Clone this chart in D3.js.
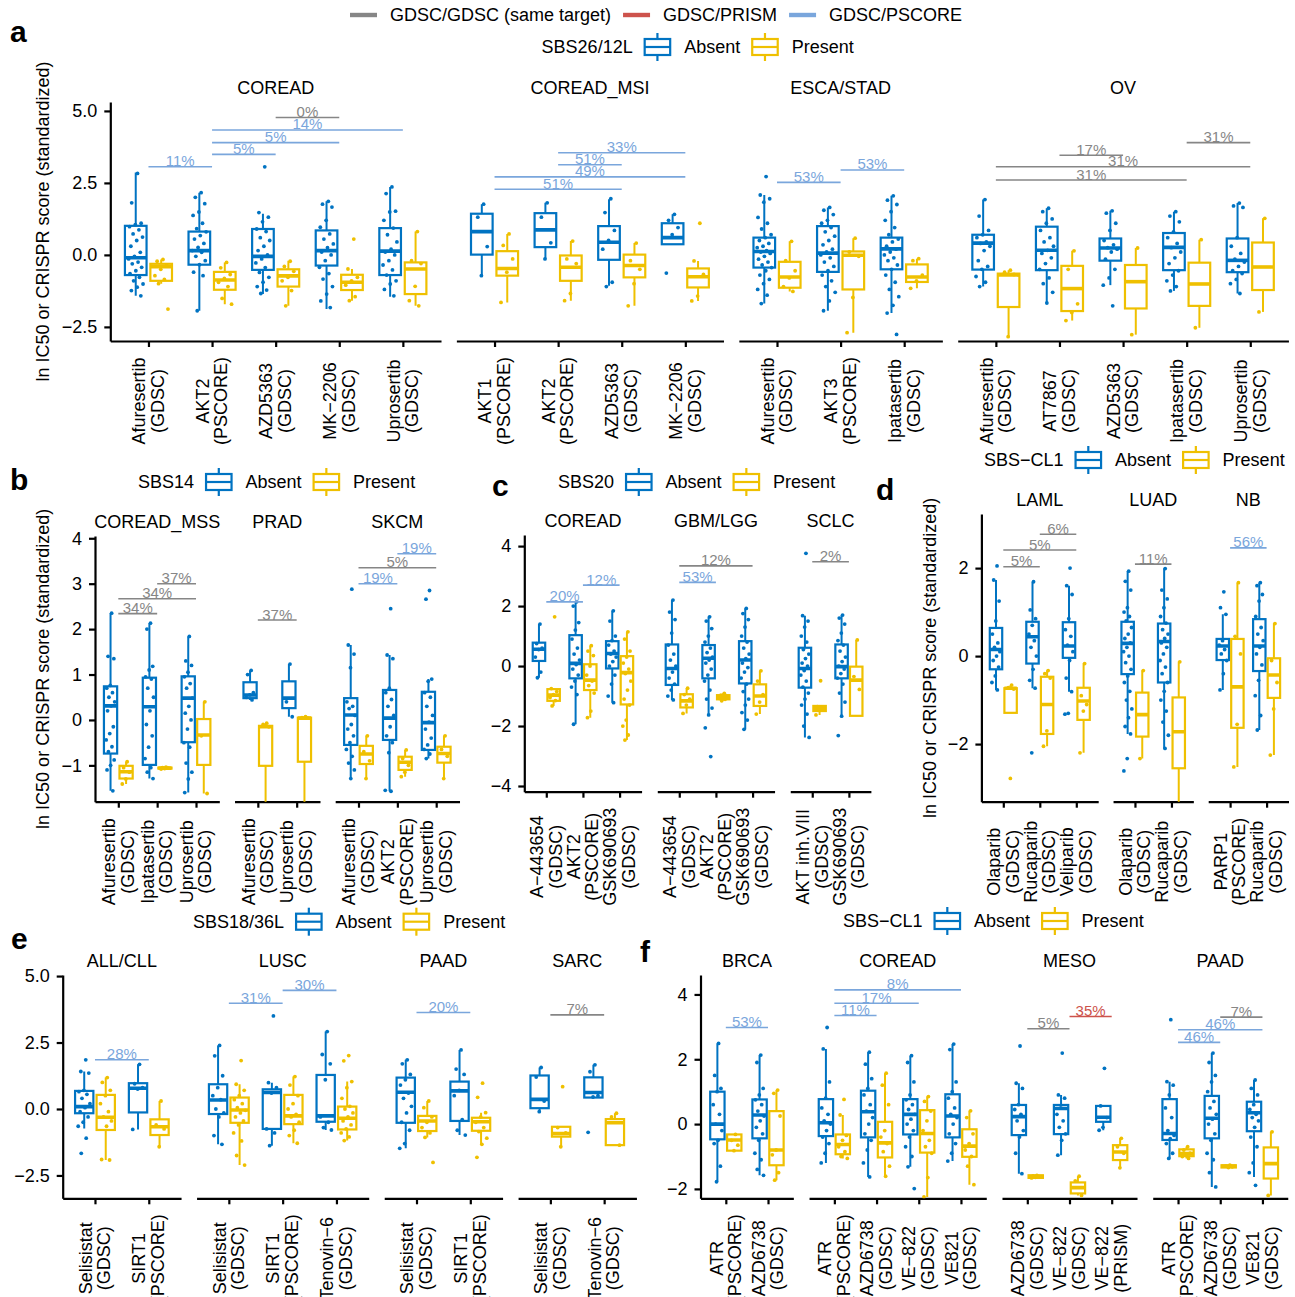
<!DOCTYPE html>
<html>
<head>
<meta charset="utf-8">
<script src="https://cdn.jsdelivr.net/npm/d3@7"></script>
<style>
  body { margin: 0; background: #fff; }
  svg { display: block; }
</style>
</head>
<body>
<script>
// ---- data ----
const groups = ['Absent', 'Present']
const bracketTypes = ['GDSC/GDSC (same target)', 'GDSC/PRISM', 'GDSC/PSCORE']

// box rows: [facet, drug, group, [lo, q1, median, q3, hi], points]
// bracket rows: [facet, drugA, drugB, y, label, type]

const aFacets = ['COREAD', 'COREAD_MSI', 'ESCA/STAD', 'OV']
const aDrugs = [
  ['Afuresertib\n(GDSC)', 'AKT2\n(PSCORE)', 'AZD5363\n(GDSC)', 'MK−2206\n(GDSC)', 'Uprosertib\n(GDSC)'],
  ['AKT1\n(PSCORE)', 'AKT2\n(PSCORE)', 'AZD5363\n(GDSC)', 'MK−2206\n(GDSC)'],
  ['Afuresertib\n(GDSC)', 'AKT3\n(PSCORE)', 'Ipatasertib\n(GDSC)'],
  ['Afuresertib\n(GDSC)', 'AT7867\n(GDSC)', 'AZD5363\n(GDSC)', 'Ipatasertib\n(GDSC)', 'Uprosertib\n(GDSC)']
]
const aTicks = [-2.5, 0, 2.5, 5]
const aBoxes = [
  [0, 0, 0, [-1.42, -0.70, -0.10, 1.01, 2.86], [2.83, 1.81, 1.1, 1.05, 0.98, 0.87, 0.73, 0.62, 0.5, 0.3, 0.09, -0.05, -0.14, -0.25, -0.31, -0.43, -0.55, -0.65, -0.78, -0.9, -1.01, -1.12, -1.24, -1.42]],
  [0, 0, 1, [-1.0, -0.9, -0.41, -0.31, -0.16], [-0.16, -0.22, -0.35, -0.5, -0.72, -0.85, -1.0, -1.88]],
  [0, 1, 0, [-1.94, -0.34, 0.15, 0.81, 2.16], [2.16, 2.0, 1.78, 1.49, 1.37, 1.1, 0.91, 0.8, 0.67, 0.55, 0.4, 0.26, 0.15, 0.09, -0.05, -0.2, -0.34, -0.6, -0.72, -1.94]],
  [0, 1, 1, [-1.71, -1.21, -0.87, -0.59, -0.26], [-0.26, -0.45, -0.68, -0.82, -0.95, -1.1, -1.51, -1.71]],
  [0, 2, 0, [-1.36, -0.52, -0.05, 0.90, 1.43], [3.06, 1.47, 1.31, 1.15, 0.9, 0.81, 0.6, 0.5, 0.3, 0.15, 0.0, -0.14, -0.28, -0.44, -0.61, -0.78, -0.95, -1.1, -1.22, -1.34]],
  [0, 2, 1, [-1.77, -1.10, -0.73, -0.50, -0.20], [-0.22, -0.4, -0.57, -0.78, -0.9, -1.24, -1.77]],
  [0, 3, 0, [-1.88, -0.37, 0.15, 0.85, 1.86], [1.86, 1.76, 1.66, 1.2, 0.96, 0.73, 0.55, 0.38, 0.25, 0.1, 0.0, -0.2, -0.43, -0.65, -0.84, -1.1, -1.36, -1.6, -1.83]],
  [0, 3, 1, [-1.59, -1.22, -0.95, -0.69, -0.49], [0.55, -0.49, -0.78, -0.9, -1.05, -1.45, -1.59]],
  [0, 4, 0, [-1.45, -0.70, 0.13, 0.93, 2.36], [2.36, 2.13, 1.52, 1.49, 1.2, 0.93, 0.7, 0.45, 0.2, 0.1, 0.0, -0.2, -0.35, -0.52, -0.7, -0.9, -1.01, -1.2, -1.42]],
  [0, 4, 1, [-1.77, -1.36, -0.49, -0.26, 0.81], [0.81, -0.2, -0.3, -1.09, -1.59, -1.77]],
  [1, 0, 0, [-0.72, 0.01, 0.81, 1.43, 1.76], [1.76, 1.31, 0.29, -0.72]],
  [1, 0, 1, [-1.65, -0.72, -0.47, 0.13, 0.73], [0.73, 0.33, -0.14, -0.6, -1.65]],
  [1, 1, 0, [-0.14, 0.27, 0.87, 1.45, 1.81], [1.81, 1.31, 0.42, -0.14]],
  [1, 1, 1, [-1.59, -0.90, -0.43, -0.02, 0.48], [0.48, -0.14, -0.3, -1.34, -1.59]],
  [1, 2, 0, [-1.07, -0.17, 0.44, 1.0, 1.93], [1.95, 1.47, 0.85, 0.5, 0.2, -0.95, -1.1]],
  [1, 2, 1, [-1.77, -0.78, -0.37, 0.01, 0.41], [0.41, -0.2, -0.5, -1.0, -1.77]],
  [1, 3, 0, [0.37, 0.37, 0.60, 1.10, 1.41], [1.41, 1.2, 0.95, 0.7, -0.63]],
  [1, 3, 1, [-1.60, -1.13, -0.76, -0.47, -0.21], [1.1, -0.21, -0.68, -1.43, -1.6]],
  [2, 0, 0, [-1.69, -0.44, 0.12, 0.60, 2.08], [2.72, 2.08, 1.95, 1.83, 1.3, 1.1, 0.9, 0.7, 0.6, 0.5, 0.4, 0.3, 0.25, 0.15, 0.1, 0.05, -0.05, -0.15, -0.25, -0.35, -0.44, -0.55, -0.7, -0.85, -1.0, -1.2, -1.4, -1.69]],
  [2, 0, 1, [-1.27, -1.14, -0.77, -0.24, 0.47], [0.47, -0.2, -0.55, -0.8, -1.1, -1.27]],
  [2, 1, 0, [-1.94, -0.59, 0.06, 1.0, 1.65], [1.65, 1.55, 1.4, 1.2, 1.1, 0.95, 0.8, 0.65, 0.5, 0.35, 0.2, 0.1, 0.0, -0.1, -0.25, -0.4, -0.55, -0.7, -0.9, -1.1, -1.3, -1.6, -1.94]],
  [2, 1, 1, [-2.7, -1.2, -0.01, 0.12, 0.58], [0.58, 0.1, -0.05, -1.48, -2.7]],
  [2, 2, 0, [-2.02, -0.50, 0.21, 0.60, 2.05], [2.05, 1.9, 1.75, 1.5, 1.2, 0.95, 0.7, 0.55, 0.45, 0.3, 0.2, 0.1, 0.0, -0.1, -0.2, -0.35, -0.5, -0.7, -0.95, -1.2, -1.45, -1.75, -2.02, -2.76]],
  [2, 2, 1, [-1.16, -0.94, -0.77, -0.33, -0.13], [-0.13, -0.2, -0.7, -0.9, -1.16]],
  [3, 0, 0, [-1.10, -0.51, 0.41, 0.70, 1.92], [1.92, 1.35, 0.85, 0.7, 0.6, 0.45, 0.4, 0.3, 0.15, -0.2, -0.4, -0.5, -0.75, -0.95, -1.1]],
  [3, 0, 1, [-2.84, -1.81, -0.70, -0.65, -0.53], [-0.53, -0.6, -0.68, -2.84]],
  [3, 1, 0, [-1.67, -0.53, 0.16, 0.98, 1.62], [1.62, 1.5, 1.25, 1.1, 0.85, 0.6, 0.45, 0.3, 0.16, 0.05, -0.1, -0.3, -0.5, -0.8, -1.0, -1.3, -1.67]],
  [3, 1, 1, [-2.28, -1.95, -1.17, -0.38, 0.14], [0.14, -0.5, -1.7, -2.0, -2.28]],
  [3, 2, 0, [-1.05, -0.20, 0.24, 0.57, 1.53], [1.53, 1.45, 1.1, 0.85, 0.5, 0.35, 0.25, 0.2, 0.1, -0.15, -0.5, -0.8, -1.05, -1.77]],
  [3, 2, 1, [-2.77, -1.86, -0.93, -0.35, 0.24], [0.24, -2.77]],
  [3, 3, 0, [-1.25, -0.53, 0.26, 0.76, 1.50], [1.5, 1.35, 1.15, 0.8, 0.6, 0.4, 0.25, 0.1, -0.1, -0.3, -0.55, -0.7, -0.9, -1.1, -1.25]],
  [3, 3, 1, [-2.53, -1.77, -1.01, -0.27, 0.53], [0.53, -2.53]],
  [3, 4, 0, [-1.34, -0.60, -0.19, 0.57, 1.80], [1.8, 1.7, 1.65, 0.6, 0.3, 0.05, -0.15, -0.25, -0.4, -0.55, -0.65, -0.85, -1.0, -1.34]],
  [3, 4, 1, [-1.98, -1.22, -0.42, 0.43, 1.27], [1.27, -1.98]]
]
const aBrackets = [
  [0, 2, 3, 4.77, '0%', 0], [0, 1, 4, 4.34, '14%', 2], [0, 1, 3, 3.90, '5%', 2], [0, 1, 2, 3.49, '5%', 2], [0, 0, 1, 3.06, '11%', 2],
  [1, 1, 3, 3.55, '33%', 2], [1, 1, 2, 3.13, '51%', 2], [1, 0, 3, 2.71, '49%', 2], [1, 0, 2, 2.28, '51%', 2],
  [2, 1, 2, 2.95, '53%', 2], [2, 0, 1, 2.52, '53%', 2],
  [3, 3, 4, 3.90, '31%', 0], [3, 1, 2, 3.46, '17%', 0], [3, 0, 4, 3.06, '31%', 0], [3, 0, 3, 2.60, '31%', 0]
]

const bFacets = ['COREAD_MSS', 'PRAD', 'SKCM']
const bDrugs = [
  ['Afuresertib\n(GDSC)', 'Ipatasertib\n(GDSC)', 'Uprosertib\n(GDSC)'],
  ['Afuresertib\n(GDSC)', 'Uprosertib\n(GDSC)'],
  ['Afuresertib\n(GDSC)', 'AKT2\n(PSCORE)', 'Uprosertib\n(GDSC)']
]
const bTicks = [-1, 0, 1, 2, 3, 4]
const bBoxes = [
  [0, 0, 0, [-1.56, -0.74, 0.31, 0.74, 2.35], [2.35, 1.4, 1.35, 0.76, 0.7, 0.6, 0.5, 0.4, 0.31, 0.2, -0.15, -0.3, -0.44, -0.59, -0.7, -0.88, -1.0, -1.1, -1.56]],
  [0, 0, 1, [-1.41, -1.29, -1.14, -1.01, -0.92], [-0.92, -1.05, -1.15, -1.3, -1.41]],
  [0, 1, 0, [-1.29, -0.99, 0.29, 0.93, 2.13], [2.13, 2.0, 1.18, 1.1, 0.95, 0.9, 0.7, 0.5, 0.2, -0.1, -0.35, -0.6, -0.85, -1.05, -1.15, -1.29]],
  [0, 1, 1, [-1.08, -1.07, -1.06, -1.05, -1.04], [-1.04, -1.05, -1.06, -1.07, -1.08]],
  [0, 2, 0, [-1.60, -0.49, 0.48, 0.96, 1.84], [1.84, 1.3, 1.2, 1.05, 0.95, 0.8, 0.7, 0.48, 0.3, 0.15, 0.0, -0.2, -0.5, -0.6, -0.95, -1.15, -1.3, -1.6]],
  [0, 2, 1, [-1.62, -0.99, -0.33, 0.02, 0.40], [0.4, -0.35, -1.62]],
  [1, 0, 0, [0.44, 0.48, 0.55, 0.83, 1.09], [1.09, 1.0, 0.6, 0.55, 0.5, 0.44]],
  [1, 0, 1, [-3.5, -1.01, -0.15, -0.13, -0.07], [-0.07, -0.1, -0.15]],
  [1, 1, 0, [0.07, 0.26, 0.48, 0.85, 1.23], [1.23, 0.4, 0.07]],
  [1, 1, 1, [-3.5, -0.92, 0.04, 0.05, 0.07], [0.07, 0.05, 0.04]],
  [2, 0, 0, [-1.29, -0.55, 0.11, 0.48, 1.65], [2.88, 1.65, 1.45, 1.15, 0.4, 0.3, 0.25, 0.1, -0.1, -0.2, -0.35, -0.5, -0.65, -0.8, -0.95, -1.1, -1.29]],
  [2, 0, 1, [-1.29, -0.97, -0.75, -0.57, -0.35], [-0.35, -0.7, -0.9, -1.29]],
  [2, 1, 0, [-1.57, -0.44, 0.04, 0.66, 1.43], [2.45, 1.43, 1.35, 0.7, 0.6, 0.45, 0.3, 0.1, -0.15, -0.35, -0.5, -0.72, -1.55, -1.57]],
  [2, 1, 1, [-1.25, -1.10, -0.93, -0.81, -0.66], [-0.66, -0.85, -1.0, -1.15, -1.25]],
  [2, 2, 0, [-0.85, -0.66, -0.06, 0.62, 0.90], [2.85, 2.66, 0.9, 0.85, 0.6, 0.5, 0.3, 0.1, -0.05, -0.2, -0.4, -0.55, -0.65, -0.75, -0.85]],
  [2, 2, 1, [-1.29, -0.94, -0.74, -0.59, -0.35], [-0.35, -0.65, -0.8, -1.29]]
]
const bBrackets = [
  [0, 1, 2, 3.0, '37%', 0], [0, 0, 2, 2.67, '34%', 0], [0, 0, 1, 2.34, '34%', 0],
  [1, 0, 1, 2.2, '37%', 0],
  [2, 1, 2, 3.66, '19%', 2], [2, 0, 2, 3.35, '5%', 0], [2, 0, 1, 3.0, '19%', 2]
]

const cFacets = ['COREAD', 'GBM/LGG', 'SCLC']
const cDrugs = [
  ['A−443654\n(GDSC)', 'AKT2\n(PSCORE)', 'GSK690693\n(GDSC)'],
  ['A−443654\n(GDSC)', 'AKT2\n(PSCORE)', 'GSK690693\n(GDSC)'],
  ['AKT inh.VIII\n(GDSC)', 'GSK690693\n(GDSC)']
]
const cTicks = [-4, -2, 0, 2, 4]
const cBoxes = [
  [0, 0, 0, [-0.39, 0.17, 0.56, 0.78, 1.40], [1.4, 0.75, 0.6, 0.55, 0.3, -0.2, -0.39]],
  [0, 0, 1, [-1.33, -1.16, -0.97, -0.77, -0.74], [1.64, -0.75, -0.85, -0.95, -1.05, -1.15, -1.33]],
  [0, 1, 0, [-1.94, -0.41, 0.09, 1.03, 2.14], [2.14, 2.0, 1.45, 1.2, 0.9, 0.6, 0.4, 0.2, 0.05, -0.1, -0.3, -0.5, -0.7, -0.95, -1.94]],
  [0, 1, 1, [-1.72, -0.80, -0.47, 0.06, 0.68], [0.68, 0.5, 0.35, 0.0, -0.3, -0.5, -0.65, -0.9, -1.5, -1.72]],
  [0, 2, 0, [-1.22, -0.08, 0.42, 0.83, 1.84], [1.84, 1.5, 1.0, 0.85, 0.7, 0.5, 0.4, 0.3, 0.15, 0.0, -0.3, -0.6, -1.0, -1.22]],
  [0, 2, 1, [-2.47, -1.28, -0.22, 0.33, 1.14], [1.14, 0.9, 0.5, 0.3, 0.1, -0.1, -0.25, -0.5, -0.8, -1.1, -1.3, -1.8, -2.0, -2.3, -2.47]],
  [1, 0, 0, [-1.13, -0.63, -0.08, 0.72, 2.20], [2.2, 1.8, 1.55, 1.1, 0.7, 0.4, 0.2, 0.0, -0.2, -0.4, -0.6, -0.8, -1.0, -1.13]],
  [1, 0, 1, [-1.58, -1.38, -1.16, -0.94, -0.74], [-0.74, -0.95, -1.1, -1.3, -1.58]],
  [1, 1, 0, [-1.63, -0.41, 0.26, 0.70, 1.64], [1.64, 1.5, 1.25, 1.0, 0.8, 0.6, 0.45, 0.3, 0.2, 0.1, -0.1, -0.3, -0.5, -0.8, -1.1, -1.4, -1.63, -2.06, -3.02]],
  [1, 1, 1, [-1.16, -1.11, -1.04, -0.97, -0.91], [-0.91, -0.97, -1.0, -1.04, -1.08, -1.11, -1.16]],
  [1, 2, 0, [-2.11, -0.58, 0.20, 0.83, 1.92], [1.92, 1.75, 1.55, 1.3, 1.0, 0.8, 0.6, 0.4, 0.25, 0.1, -0.05, -0.2, -0.4, -0.6, -0.85, -1.1, -1.3, -1.55, -1.8, -2.11]],
  [1, 2, 1, [-1.60, -1.33, -1.00, -0.61, -0.16], [-0.16, -0.5, -0.95, -1.2, -1.6]],
  [2, 0, 0, [-2.38, -0.72, -0.08, 0.61, 1.68], [3.76, 1.68, 1.5, 1.3, 1.0, 0.8, 0.55, 0.4, 0.25, 0.1, 0.0, -0.15, -0.3, -0.5, -0.7, -0.9, -1.1, -1.3, -1.6, -2.0, -2.38]],
  [2, 0, 1, [-1.63, -1.50, -1.41, -1.33, -1.33], [-0.49, -1.35, -1.4, -1.45, -1.63]],
  [2, 1, 0, [-1.67, -0.41, -0.02, 0.72, 1.70], [1.7, 1.6, 1.4, 1.1, 0.85, 0.7, 0.5, 0.3, 0.15, 0.0, -0.1, -0.25, -0.4, -0.6, -0.9, -1.2, -1.67, -2.32]],
  [2, 1, 1, [-1.66, -1.66, -0.47, -0.02, 0.87], [0.87, -0.35, -0.78]]
]
const cBrackets = [
  [0, 0, 1, 2.14, '20%', 2], [0, 1, 2, 2.7, '12%', 2],
  [1, 0, 2, 3.34, '12%', 0], [1, 0, 1, 2.79, '53%', 2],
  [2, 0, 1, 3.48, '2%', 0]
]

const dFacets = ['LAML', 'LUAD', 'NB']
const dDrugs = [
  ['Olaparib\n(GDSC)', 'Rucaparib\n(GDSC)', 'Veliparib\n(GDSC)'],
  ['Olaparib\n(GDSC)', 'Rucaparib\n(GDSC)'],
  ['PARP1\n(PSCORE)', 'Rucaparib\n(GDSC)']
]
const dTicks = [-2, 0, 2]
const dBoxes = [
  [0, 0, 0, [-0.77, -0.30, 0.15, 0.64, 1.73], [2.05, 1.73, 1.25, 0.8, 0.5, 0.3, 0.2, 0.1, 0.0, -0.1, -0.25, -0.45, -0.6, -0.77]],
  [0, 0, 1, [-1.29, -1.29, -0.73, -0.73, -0.66], [-0.66, -0.72, -0.75, -2.78]],
  [0, 1, 0, [-0.73, -0.17, 0.44, 0.78, 1.69], [1.69, 1.05, 0.85, 0.7, 0.5, 0.35, 0.2, 0.0, -0.3, -0.55, -0.73, -2.2]],
  [0, 1, 1, [-2.05, -1.77, -1.10, -0.47, -0.33], [-0.33, -0.4, -0.5, -1.7, -2.05]],
  [0, 2, 0, [-0.81, -0.04, 0.23, 0.77, 1.60], [2.0, 1.6, 1.4, 0.85, 0.6, 0.45, 0.25, 0.1, -0.1, -0.5, -0.81, -1.3, -1.32]],
  [0, 2, 1, [-2.20, -1.45, -1.02, -0.72, -0.17], [-0.17, -0.9, -1.1, -1.25, -2.2]],
  [1, 0, 0, [-1.77, -0.41, 0.29, 0.78, 1.93], [1.93, 1.7, 1.5, 1.1, 1.0, 0.9, 0.8, 0.65, 0.5, 0.4, 0.3, 0.2, 0.1, 0.0, -0.15, -0.3, -0.45, -0.6, -0.8, -1.0, -1.2, -1.4, -1.6, -1.77, -2.33, -2.61]],
  [1, 0, 1, [-2.33, -1.83, -1.33, -0.83, -0.33], [-0.33, -2.33]],
  [1, 1, 0, [-2.10, -0.60, 0.33, 0.74, 1.99], [1.99, 1.5, 1.3, 1.1, 0.9, 0.75, 0.6, 0.5, 0.4, 0.3, 0.2, 0.05, -0.1, -0.25, -0.4, -0.6, -0.8, -1.0, -1.25, -1.5, -1.8, -2.1]],
  [1, 1, 1, [-3.6, -2.55, -1.72, -0.94, -0.13], [-0.13, -3.6]],
  [2, 0, 0, [-0.77, -0.09, 0.23, 0.39, 0.95], [1.46, 1.1, 0.95, 0.35, 0.25, 0.15, 0.05, -0.1, -0.4, -0.77]],
  [2, 0, 1, [-2.52, -1.63, -0.70, 0.39, 1.67], [1.67, 0.45, 0.05, -1.55, -2.52]],
  [2, 1, 0, [-1.68, -0.34, 0.23, 0.84, 1.67], [1.67, 1.6, 1.4, 1.25, 0.9, 0.65, 0.5, 0.35, 0.2, 0.05, -0.2, -0.55, -0.9, -1.35, -1.68]],
  [2, 1, 1, [-2.25, -0.95, -0.43, -0.05, 0.74], [0.74, -0.1, -0.6, -1.2, -2.25]]
]
const dBrackets = [
  [0, 1, 2, 2.77, '6%', 0], [0, 0, 2, 2.41, '5%', 0], [0, 0, 1, 2.03, '5%', 0],
  [1, 0, 1, 2.09, '11%', 0],
  [2, 0, 1, 2.46, '56%', 2]
]

const eFacets = ['ALL/CLL', 'LUSC', 'PAAD', 'SARC']
const eDrugs = [
  ['Selisistat\n(GDSC)', 'SIRT1\n(PSCORE)'],
  ['Selisistat\n(GDSC)', 'SIRT1\n(PSCORE)', 'Tenovin−6\n(GDSC)'],
  ['Selisistat\n(GDSC)', 'SIRT1\n(PSCORE)'],
  ['Selisistat\n(GDSC)', 'Tenovin−6\n(GDSC)']
]
const eTicks = [-2.5, 0, 2.5, 5]
const eBoxes = [
  [0, 0, 0, [-0.73, -0.16, 0.09, 0.68, 1.41], [1.85, 1.41, 1.35, 0.7, 0.65, 0.55, 0.4, 0.2, 0.05, -0.1, -0.3, -0.5, -0.65, -1.1, -1.67]],
  [0, 0, 1, [-1.92, -0.79, -0.31, 0.53, 1.18], [1.18, 1.0, 0.7, 0.5, 0.2, -0.1, -0.3, -0.45, -0.65, -1.9, -1.92]],
  [0, 1, 0, [-0.77, -0.13, 0.78, 0.97, 1.68], [1.68, 0.95, 0.8, 0.75, -0.77]],
  [0, 1, 1, [-1.42, -0.98, -0.67, -0.39, 0.30], [0.3, -0.6, -0.75, -1.42]],
  [1, 0, 0, [-1.33, -0.19, 0.34, 0.93, 2.39], [2.39, 2.0, 1.25, 0.8, 0.5, 0.35, 0.0, -0.15, -0.3, -1.0, -1.33]],
  [1, 0, 1, [-2.11, -0.52, -0.04, 0.43, 0.93], [1.82, 0.93, 0.7, 0.5, 0.35, 0.2, 0.05, -0.05, -0.15, -0.3, -0.45, -0.6, -0.9, -1.2, -1.75, -2.11]],
  [1, 1, 0, [-1.38, -0.75, 0.62, 0.74, 0.99], [3.5, 0.99, 0.8, 0.6, -0.75, -0.9, -1.38]],
  [1, 1, 1, [-1.29, -0.57, -0.26, 0.53, 1.22], [1.22, 0.9, 0.5, 0.2, 0.0, -0.2, -0.3, -0.5, -0.8, -1.0, -1.29]],
  [1, 2, 0, [-0.79, -0.48, -0.26, 1.28, 2.91], [2.91, 2.05, 1.7, 1.1, -0.3, -0.5, -0.7, -0.79]],
  [1, 2, 1, [-1.19, -0.77, -0.35, 0.09, 1.03], [2.01, 1.81, 1.03, 0.8, 0.4, 0.1, 0.0, -0.15, -0.3, -0.45, -0.6, -0.75, -0.9, -1.05, -1.19]],
  [2, 0, 0, [-1.48, -0.52, 0.63, 1.18, 1.85], [1.85, 1.7, 1.3, 1.1, 0.9, 0.6, 0.4, 0.1, -0.15, -0.5, -0.8, -1.3, -1.48]],
  [2, 0, 1, [-1.07, -0.83, -0.45, -0.26, 0.30], [0.3, 0.05, -0.3, -0.5, -0.7, -0.9, -1.07, -2.01]],
  [2, 1, 0, [-0.98, -0.45, 0.68, 1.03, 2.22], [2.22, 1.5, 1.3, 0.7, 0.5, -0.4, -0.8, -0.98]],
  [2, 1, 1, [-1.33, -0.82, -0.48, -0.33, -0.14], [0.97, 0.44, -0.14, -0.3, -0.5, -0.7, -0.85, -1.1, -1.33, -1.82]],
  [3, 0, 0, [-0.10, 0.03, 0.36, 1.26, 1.56], [1.56, 1.2, 0.3, -0.1]],
  [3, 0, 1, [-1.42, -1.04, -0.92, -0.67, -0.67], [0.84, -0.7, -0.9, -1.42]],
  [3, 1, 0, [0.43, 0.43, 0.62, 1.19, 1.66], [1.66, 1.4, 0.5, 0.45, -0.88]],
  [3, 1, 1, [-1.36, -1.36, -0.52, -0.38, -0.16], [-0.16, -0.3, -1.36]]
]
const eBrackets = [
  [0, 0, 1, 1.85, '28%', 2],
  [1, 0, 1, 3.98, '31%', 2], [1, 1, 2, 4.46, '30%', 2],
  [2, 0, 1, 3.63, '20%', 2],
  [3, 0, 1, 3.54, '7%', 0]
]

const fFacets = ['BRCA', 'COREAD', 'MESO', 'PAAD']
const fDrugs = [
  ['ATR\n(PSCORE)', 'AZD6738\n(GDSC)'],
  ['ATR\n(PSCORE)', 'AZD6738\n(GDSC)', 'VE−822\n(GDSC)', 'VE821\n(GDSC)'],
  ['AZD6738\n(GDSC)', 'VE−822\n(GDSC)', 'VE−822\n(PRISM)'],
  ['ATR\n(PSCORE)', 'AZD6738\n(GDSC)', 'VE821\n(GDSC)']
]
const fTicks = [-2, 0, 2, 4]
const fBoxes = [
  [0, 0, 0, [-1.78, -0.47, 0.0, 1.0, 2.49], [2.49, 1.5, 1.1, 1.0, 0.6, 0.3, 0.0, -0.2, -0.5, -0.6, -1.3, -1.78]],
  [0, 0, 1, [-0.82, -0.82, -0.49, -0.32, -0.32], [-0.32, -0.5, -0.65, -0.82]],
  [0, 1, 0, [-1.58, -0.44, 0.28, 0.76, 2.13], [2.13, 1.9, 1.1, 0.9, 0.75, 0.6, 0.4, 0.25, 0.1, -0.1, -0.3, -0.5, -0.9, -1.1, -1.4, -1.58]],
  [0, 1, 1, [-1.73, -1.27, -0.80, 0.40, 1.05], [1.05, 0.95, 0.25, -0.8, -0.95, -1.5, -1.73]],
  [1, 0, 0, [-1.20, -0.37, 0.04, 0.77, 2.32], [2.98, 2.32, 1.3, 0.8, 0.5, 0.3, 0.1, 0.0, -0.2, -0.4, -0.6, -0.9, -1.2]],
  [1, 0, 1, [-1.06, -0.93, -0.63, -0.32, 0.28], [0.76, 0.28, -0.35, -0.5, -0.7, -0.85, -1.0, -1.06]],
  [1, 1, 0, [-1.63, -0.41, 0.38, 1.03, 2.22], [2.22, 1.85, 1.4, 1.1, 0.9, 0.6, 0.4, 0.2, 0.0, -0.3, -0.5, -0.8, -1.2, -1.63]],
  [1, 1, 1, [-1.61, -1.03, -0.58, 0.07, 1.57], [1.57, 1.2, 0.6, -0.2, -0.4, -0.6, -0.85, -1.3, -1.61]],
  [1, 2, 0, [-1.32, -0.32, 0.30, 0.77, 2.11], [2.11, 1.9, 1.3, 0.9, 0.75, 0.6, 0.45, 0.3, 0.15, 0.0, -0.2, -0.4, -0.7, -1.0, -1.32, -1.99]],
  [1, 2, 1, [-2.25, -0.88, -0.29, 0.43, 0.85], [0.85, 0.7, 0.4, 0.1, -0.2, -0.5, -0.7, -0.9, -1.65, -2.25]],
  [1, 3, 0, [-1.14, -0.41, 0.25, 0.92, 2.47], [2.47, 2.3, 1.3, 1.0, 0.8, 0.5, 0.3, 0.2, 0.0, -0.3, -0.6, -0.9, -1.14]],
  [1, 3, 1, [-1.87, -1.01, -0.68, -0.16, 0.41], [0.41, 0.2, -0.3, -0.6, -0.8, -1.0, -1.3, -1.87]],
  [2, 0, 0, [-1.53, -0.34, 0.23, 0.59, 1.26], [2.41, 1.26, 1.1, 0.6, 0.45, 0.3, 0.1, -0.2, -0.4, -0.9, -1.53]],
  [2, 0, 1, [-1.66, -1.66, -1.62, -1.58, -1.58], [-1.58, -1.6, -1.62, -1.64, -1.66]],
  [2, 1, 0, [-0.96, -0.31, 0.48, 0.59, 0.90], [2.19, 0.9, 0.8, 0.5, 0.3, 0.1, -0.1, -0.3, -0.5, -0.96]],
  [2, 1, 1, [-2.20, -2.14, -1.96, -1.80, -1.61], [-1.61, -1.75, -2.2]],
  [2, 2, 0, [-0.19, 0.07, 0.21, 0.56, 0.56], [1.72, 0.56, 0.2, -0.1, -0.19]],
  [2, 2, 1, [-1.35, -1.11, -0.86, -0.65, -0.44], [-0.44, -0.7, -0.9, -1.35]],
  [3, 0, 0, [-1.06, -0.49, -0.29, 0.77, 1.31], [3.22, 1.31, 1.2, 0.9, 0.5, 0.2, -0.2, -0.35, -0.45, -0.6, -0.9, -1.06]],
  [3, 0, 1, [-1.06, -0.99, -0.91, -0.78, -0.70], [-0.7, -0.8, -0.9, -0.95, -1.0, -1.06]],
  [3, 1, 0, [-1.94, -0.44, 0.18, 0.87, 2.19], [2.19, 1.9, 1.5, 1.3, 1.0, 0.7, 0.5, 0.3, 0.15, 0.0, -0.3, -0.5, -0.9, -1.1, -1.5, -1.94]],
  [3, 1, 1, [-1.34, -1.34, -1.30, -1.27, -1.27], [-1.27, -1.3, -1.32, -1.34]],
  [3, 2, 0, [-1.63, -0.22, 0.35, 0.69, 1.36], [1.36, 1.1, 0.9, 0.6, 0.45, 0.3, 0.2, 0.1, -0.1, -0.4, -0.7, -1.2, -1.5, -1.89]],
  [3, 2, 1, [-2.20, -1.68, -1.22, -0.72, -0.24], [-0.24, -2.2]]
]
const fBrackets = [
  [0, 0, 1, 2.98, '53%', 2],
  [1, 0, 3, 4.14, '8%', 2], [1, 0, 2, 3.73, '17%', 2], [1, 0, 1, 3.35, '11%', 2],
  [2, 0, 1, 2.94, '5%', 0], [2, 1, 2, 3.32, '35%', 1],
  [3, 1, 2, 3.30, '7%', 0], [3, 0, 2, 2.91, '46%', 2], [3, 0, 1, 2.52, '46%', 2]
]

// ---- layout & style ----
const groupColors = ['#0073C2', '#EFC000']
const bracketColors = ['#868686', '#CD534C', '#7AA6DC']
const fontSize = 18

const panels = [
  { id: 'a', facets: aFacets, drugs: aDrugs, boxes: aBoxes, brackets: aBrackets, ticks: aTicks, fmt: '.1f', legend: 'SBS26/12L',
    left: 110.3, top: 102, bottom: 341, step: 63.6, gap: 15.35, domain: [-2.99, 5.31], ytitleX: 43, letter: [10, 42], legendX: 541.6, legendY: 47 },
  { id: 'b', facets: bFacets, drugs: bDrugs, boxes: bBoxes, brackets: bBrackets, ticks: bTicks, fmt: 'd', legend: 'SBS14',
    left: 95, top: 536, bottom: 801.7, step: 38.85, gap: 15.2, domain: [-1.8, 4.05], ytitleX: 43, letter: [10, 490], legendX: 138, legendY: 482 },
  { id: 'c', facets: cFacets, drugs: cDrugs, boxes: cBoxes, brackets: cBrackets, ticks: cTicks, fmt: 'd', legend: 'SBS20',
    left: 524.3, top: 535, bottom: 791.7, step: 36.65, gap: 15.7, domain: [-4.19, 4.37], ytitleX: null, letter: [492, 496], legendX: 558, legendY: 482 },
  { id: 'd', facets: dFacets, drugs: dDrugs, boxes: dBoxes, brackets: dBrackets, ticks: dTicks, fmt: 'd', legend: 'SBS−CL1',
    left: 981.4, top: 514, bottom: 801.7, step: 36.5, gap: 14.85, domain: [-3.31, 3.23], ytitleX: 930, letter: [876, 500], legendX: 984, legendY: 460 },
  { id: 'e', facets: eFacets, drugs: eDrugs, boxes: eBoxes, brackets: eBrackets, ticks: eTicks, fmt: '.1f', legend: 'SBS18/36L',
    left: 62.7, top: 975, bottom: 1198.3, step: 53.8, gap: 15.5, domain: [-3.36, 5.04], ytitleX: null, letter: [11, 949], legendX: 193, legendY: 921.7 },
  { id: 'f', facets: fFacets, drugs: fDrugs, boxes: fBoxes, brackets: fBrackets, ticks: fTicks, fmt: 'd', legend: 'SBS−CL1',
    left: 700.5, top: 975, bottom: 1198.3, step: 42.2, gap: 15.7, domain: [-2.29, 4.6], ytitleX: null, letter: [640, 962], legendX: 843, legendY: 921 }
]

const svg = d3.select('body').append('svg')
  .attr('width', 1295).attr('height', 1297)
  .style('font-family', '"Liberation Sans", Arial, sans-serif')
  .style('font-size', fontSize + 'px')

// deterministic jitter offset in [-1, 1]
const jitter = i => (((i + 1) * 0.6180339887) % 1 - 0.5) * 2

function styleAxis(ax) {
  ax.attr('font-size', null).attr('font-family', null)
  ax.selectAll('path, line').attr('stroke', '#000').attr('stroke-width', 2.2)
  ax.selectAll('text').attr('fill', '#000')
}

function drawPanel(p) {
  const g = svg.append('g')
  const y = d3.scaleLinear().domain(p.domain).range([p.bottom, p.top])

  let x0 = p.left
  const xs = p.drugs.map(list => {
    const w = (list.length + 0.2) * p.step
    const sc = d3.scalePoint().domain(d3.range(list.length)).range([x0, x0 + w]).padding(0.6)
    x0 += w + p.gap
    return sc
  })

  g.append('g').attr('transform', `translate(${p.left},0)`)
    .call(d3.axisLeft(y).tickValues(p.ticks).tickFormat(d3.format(p.fmt)).tickSize(6).tickSizeOuter(0).tickPadding(7))
    .call(styleAxis)

  const bw = 0.34 * p.step
  p.facets.forEach((name, fi) => {
    const sc = xs[fi]
    const [r0, r1] = sc.range()
    const clipId = `clip-${p.id}-${fi}`
    g.append('clipPath').attr('id', clipId).append('rect')
      .attr('x', r0).attr('y', p.top).attr('width', r1 - r0).attr('height', p.bottom - p.top)

    g.append('g').attr('transform', `translate(0,${p.bottom})`)
      .call(d3.axisBottom(sc).tickSize(6).tickSizeOuter(0).tickFormat(''))
      .call(styleAxis)

    g.append('text').attr('x', (r0 + r1) / 2).attr('y', p.top - 8.5)
      .attr('text-anchor', 'middle').text(name)

    const body = g.append('g').attr('clip-path', `url(#${clipId})`)
    p.boxes.filter(b => b[0] === fi).forEach(([, di, gi, s, pts]) => {
      const [lo, q1, med, q3, hi] = s
      const cx = sc(di) + (gi ? 1 : -1) * 0.2 * p.step
      const col = groupColors[gi]
      const bx = body.append('g').attr('stroke', col).attr('fill', 'none')
      bx.append('line').attr('x1', cx).attr('x2', cx).attr('y1', y(hi)).attr('y2', y(q3)).attr('stroke-width', 2)
      bx.append('line').attr('x1', cx).attr('x2', cx).attr('y1', y(q1)).attr('y2', y(lo)).attr('stroke-width', 2)
      bx.append('rect').attr('x', cx - bw / 2).attr('y', y(q3)).attr('width', bw)
        .attr('height', Math.max(0.5, y(q1) - y(q3))).attr('stroke-width', 2.2)
      bx.append('line').attr('x1', cx - bw / 2).attr('x2', cx + bw / 2)
        .attr('y1', y(med)).attr('y2', y(med)).attr('stroke-width', 3.6)
      body.append('g').selectAll('circle').data(pts).join('circle')
        .attr('cx', (d, i) => cx + jitter(i) * 0.12 * p.step)
        .attr('cy', d => y(d)).attr('r', 1.9).attr('fill', col)
    })
  })

  p.brackets.forEach(([fi, i, j, v, lab, t]) => {
    const x1 = xs[fi](i), x2 = xs[fi](j), yy = y(v)
    g.append('line').attr('x1', x1).attr('x2', x2).attr('y1', yy).attr('y2', yy)
      .attr('stroke', bracketColors[t]).attr('stroke-width', 1.6)
    g.append('text').attr('x', (x1 + x2) / 2).attr('y', yy - 0.5)
      .attr('text-anchor', 'middle').attr('font-size', 15).attr('fill', bracketColors[t]).text(lab)
  })

  // rotated two-line tick labels, centred in the space below the axis
  const labels = []
  p.drugs.forEach((list, fi) => list.forEach((lab, di) => {
    const lines = lab.split('\n')
    lines.forEach((ln, k) => {
      const t = g.append('text').attr('text-anchor', 'middle').attr('dominant-baseline', 'central').text(ln)
      labels.push({ t, x: xs[fi](di) + (k - (lines.length - 1) / 2) * 18.6 })
    })
  }))
  const maxLen = d3.max(labels, d => d.t.node().getComputedTextLength())
  const yc = p.bottom + 16 + maxLen / 2
  labels.forEach(d => d.t.attr('transform', `translate(${d.x},${yc}) rotate(-90)`))

  if (p.ytitleX) {
    g.append('text').attr('transform', `translate(${p.ytitleX},${(p.top + p.bottom) / 2}) rotate(-90)`)
      .attr('text-anchor', 'middle').attr('dominant-baseline', 'central')
      .text('ln IC50 or CRISPR score (standardized)')
  }

  g.append('text').attr('x', p.letter[0]).attr('y', p.letter[1])
    .attr('font-size', 30).attr('font-weight', 'bold').text(p.id)

  boxLegend(p.legend, p.legendX, p.legendY)
}

function boxLegend(title, x, yc) {
  const lg = svg.append('g')
  const t = lg.append('text').attr('x', x).attr('y', yc).attr('dy', '0.35em').text(title)
  let cx = x + t.node().getComputedTextLength() + 11
  groups.forEach((name, i) => {
    const k = lg.append('g').attr('stroke', groupColors[i]).attr('fill', 'none').attr('stroke-width', 2.2)
    k.append('rect').attr('x', cx + 1).attr('y', yc - 8).attr('width', 25.5).attr('height', 16)
    k.append('line').attr('x1', cx + 1).attr('x2', cx + 26.5).attr('y1', yc).attr('y2', yc)
    k.append('line').attr('x1', cx + 13.75).attr('x2', cx + 13.75).attr('y1', yc - 14).attr('y2', yc - 8)
    k.append('line').attr('x1', cx + 13.75).attr('x2', cx + 13.75).attr('y1', yc + 8).attr('y2', yc + 14)
    const lt = lg.append('text').attr('x', cx + 27.5 + 13).attr('y', yc).attr('dy', '0.35em').text(name)
    cx += 27.5 + 13 + lt.node().getComputedTextLength() + 11
  })
}

function lineLegend(x, yc) {
  let cx = x
  bracketTypes.forEach((name, i) => {
    svg.append('rect').attr('x', cx).attr('y', yc - 2.2).attr('width', 27).attr('height', 4.4).attr('fill', bracketColors[i])
    const lt = svg.append('text').attr('x', cx + 27 + 13).attr('y', yc).attr('dy', '0.35em').text(name)
    cx += 27 + 13 + lt.node().getComputedTextLength() + 12
  })
}

lineLegend(350, 15)
panels.forEach(drawPanel)
</script>
</body>
</html>
